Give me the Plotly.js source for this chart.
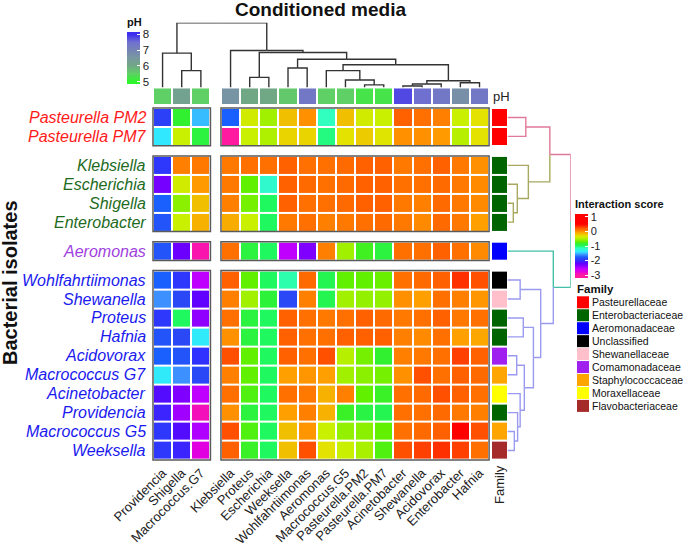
<!DOCTYPE html>
<html>
<head>
<meta charset="utf-8">
<script src="https://cdn.plot.ly/plotly-3.0.1.min.js"></script>
<style>body{margin:0;background:#fff}#chart{width:685px;height:546px}</style>
</head>
<body>
<div id="chart"></div>
<script>
// columns = conditioned media, in dendrogram order
const colNames = ["Providencia", "Shigella", "Macrococcus.G7", "Klebsiella", "Proteus", "Escherichia", "Weeksella",
    "Wohlfahrtiimonas", "Aeromonas", "Macrococcus.G5", "Pasteurella.PM2", "Pasteurella.PM7", "Acinetobacter",
    "Shewanella", "Acidovorax", "Enterobacter", "Hafnia"];
const colSplit = [0, 0, 0, 1, 1, 1, 1, 1, 1, 1, 1, 1, 1, 1, 1, 1, 1];
const colPH = [5.5, 6.2, 5.5, 6.6, 6.0, 6.0, 5.6, 7.3, 5.5, 5.5, 5.25, 5.25, 7.8, 7.5, 7.3, 6.7, 7.3];

// rows = bacterial isolates
const rowNames = ["Pasteurella PM2", "Pasteurella PM7", "Klebsiella", "Escherichia", "Shigella", "Enterobacter",
    "Aeromonas", "Wohlfahrtiimonas", "Shewanella", "Proteus", "Hafnia", "Acidovorax", "Macrococcus G7",
    "Acinetobacter", "Providencia", "Macrococcus G5", "Weeksella"];
const rowSplit = [0, 0, 1, 1, 1, 1, 2, 3, 3, 3, 3, 3, 3, 3, 3, 3, 3];
const rowFamily = [0, 0, 1, 1, 1, 1, 2, 3, 4, 1, 1, 5, 6, 7, 1, 6, 8];

const familyNames = ["Pasteurellaceae", "Enterobacteriaceae", "Aeromonadaceae", "Unclassified", "Shewanellaceae",
    "Comamonadaceae", "Staphylococcaceae", "Moraxellaceae", "Flavobacteriaceae"];
const familyColors = ["#ff0000", "#006400", "#0000ff", "#000000", "#ffc0cb", "#a020f0", "#ffa500", "#ffff00", "#a52a2a"];

const labelColors = ["#ff1a1a", "#1e6b1e", "#a040e0", "#1a1aee"];
const branchColors = ["#e07a98", "#a8a860", "#45c0a8", "#9a9af0"];

// interaction scores, rows x columns
const scores = [
    [-1.9, -0.85, -1.5, -1.75, -0.38, -0.55, -0.18, 0, -1.15, -0.18, -0.38, -0.42, 0.2, 0.12, 0.05, -0.42, -0.3],
    [-1.4, -0.42, -0.9, -3, -0.42, -0.5, -0.25, -0.25, -1.05, -0.3, -0.22, -0.32, 0, 0, -0.03, -0.48, -0.3],
    [-1.95, 0.05, 0.08, 0.08, 0.12, 0.12, 0.2, 0.12, 0.12, 0.15, 0.2, 0.2, 0.08, 0.12, 0.2, 0.08, 0],
    [-2.3, -0.38, -0.03, 0.08, -0.7, -1.2, 0.2, 0.15, 0.12, 0.15, 0.2, 0.2, 0.12, 0.12, 0.15, 0.08, 0.02],
    [-1.75, -0.6, -0.18, 0.05, -0.65, -1.0, 0.2, 0.12, 0.12, 0.15, 0.2, 0.2, 0.08, 0.05, 0.15, 0.08, 0.02],
    [-1.8, -0.42, -0.12, -0.1, -0.42, -1.0, 0.08, 0.12, 0.05, 0.08, 0.12, 0.15, 0.08, 0.02, 0.15, 0.08, -0.05],
    [-1.8, -2.25, -2.95, 0.12, -0.9, -1.0, -2.55, -2.35, 0.05, -0.55, -0.8, -0.9, 0.12, 0.12, 0.2, 0.12, 0.02],
    [-1.75, -1.95, -2.55, 0.2, -0.7, -1.0, -1.12, 0.15, -0.95, -0.7, -0.7, -0.68, 0.12, 0.15, 0.2, 0.35, 0.25],
    [-1.6, -1.85, -2.2, 0.05, -0.55, -0.88, -1.85, 0.05, -0.95, -0.55, -0.58, -0.58, 0, -0.05, 0.12, 0.05, -0.02],
    [-1.95, -1.0, -2.4, 0.12, -0.9, -1.0, 0.2, 0.12, 0.08, 0.12, 0.2, 0.15, 0.08, 0.12, 0.2, 0.08, 0.12],
    [-1.8, -1.85, -1.38, 0, -0.9, -1.0, 0.2, 0.12, 0.12, 0.2, 0.2, 0.2, 0.05, 0.02, 0.12, -0.05, -0.08],
    [-1.75, -1.8, -2.0, 0.25, -0.7, -1.0, 0.2, 0.12, 0.25, -0.48, -0.65, -0.85, 0.05, 0.08, 0.12, 0.3, 0.2],
    [-1.38, -1.6, -1.85, 0.05, -0.7, -1.0, -0.05, -0.02, -0.05, -0.55, -0.6, -0.65, 0, 0.25, 0.12, 0.2, 0.15],
    [-2.15, -2.35, -2.55, 0.12, -0.75, -1.0, 0.12, 0.08, -0.12, 0.05, -0.7, -0.82, 0.12, 0.15, 0.25, 0.2, 0.12],
    [-2.05, -2.45, -2.9, 0, -0.9, -1.0, -0.05, 0.05, -0.12, -0.82, -0.92, -0.95, 0.12, 0.12, 0.15, 0.08, 0.05],
    [-1.95, -2.15, -2.5, 0.25, -0.75, -1.0, -0.18, -0.02, -0.42, -0.58, -0.6, -0.7, 0.12, 0.15, 0.2, 0.5, 0.25],
    [-1.95, -2.05, -2.75, 0.2, -0.82, -1.0, -0.18, 0.25, -0.3, -0.42, -0.52, -0.75, 0.25, 0.3, 0.35, 0.3, 0.12]
];
const scoreTicks = [1, 0, -1, -2, -3];
const scoreTickText = ["1", "0", "-1", "-2", "-3"];
const phTicks = [5, 6, 7, 8];

// dendrograms, R hclust style: negative = leaf (1-based display order), positive = earlier merge
const colMerges = [[-13, -14, 0.023], [-11, -12, 0.04], [1, -15, 0.054], [-16, -17, 0.074], [3, 4, 0.105],
    [-10, 2, 0.116], [-5, -6, 0.157], [-9, 6, 0.26], [-2, -3, 0.26], [-7, -8, 0.30], [8, 5, 0.35],
    [10, 11, 0.435], [-1, 9, 0.53], [7, 12, 0.54], [-4, 14, 0.57], [13, 15, 1.0]];
const rowMerges = [[-5, -6, 0.092], [-16, -17, 0.108], [-12, -13, 0.146], [-4, 1, 0.155], [-15, 2, 0.16],
    [-8, -9, 0.20], [-14, 5, 0.20], [-10, -11, 0.25], [3, 7, 0.266], [-1, -2, 0.29], [-3, 4, 0.33],
    [8, 9, 0.41], [6, 12, 0.525], [10, 11, 0.67], [-7, 13, 0.725], [14, 15, 1.0]];

// colour ramps (legend bar runs a little past the end ticks, like ComplexHeatmap)
const scoreStops = [-3.2, -3, -2.75, -2.55, -2.35, -2.2, -2.0, -1.85, -1.75, -1.6, -1.4, -1.15, -1.0, -0.85, -0.7,
    -0.55, -0.42, -0.3, -0.18, -0.05, 0, 0.05, 0.12, 0.2, 0.3, 0.5, 1.2];
const scoreHex = ["#ff1aa0", "#ff1aa0", "#e000e0", "#c000ff", "#8000ff", "#6000ff", "#3030ff", "#2a48f5", "#1a60ff",
    "#3c90ff", "#30e8ff", "#30ffc0", "#20f860", "#30f030", "#60f000", "#a0f000", "#c8f000", "#e4e200",
    "#f0c000", "#ffa000", "#ff9000", "#ff8000", "#ff7000", "#ff6000", "#ff4000", "#ff0000", "#ff0000"];
const phStops = [4.85, 5, 5.5, 6, 6.5, 7, 7.5, 8, 8.15];
const phHex = ["#2ef52e", "#2ef52e", "#5fd065", "#70a885", "#7898a0", "#7585b5", "#7070d0", "#3c2cf0", "#3c2cf0"];

const W = 685, H = 546;
const px = 19.15, py = 18.93;      // pixels per cell
const x0px = 153, y0px = 108;      // top-left of heatmap body
const gapX = 0.55, gapY = 0.53;    // slice gaps in cell units
const xRange = [-x0px / px, (W - x0px) / px];
const yRange = [(H - y0px) / py, -y0px / py];
const paperX = p => p / W;
const paperY = p => 1 - p / H;

const colX = colNames.map((_, i) => i + 0.5 + gapX * colSplit[i]);
const rowY = rowNames.map((_, i) => i + 0.5 + gapY * rowSplit[i]);

function scale(stops, hex) {
    const lo = stops[0], hi = stops[stops.length - 1];
    return stops.map((s, i) => [(s - lo) / (hi - lo), hex[i]]);
}

function idx(arr, g) {
    return arr.map((v, i) => v === g ? i : -1).filter(i => i >= 0);
}

const traces = [];
const shapes = [];

// main heatmap, one trace per slice
let first = true;
[0, 1, 2, 3].forEach(rg => {
    const rows = idx(rowSplit, rg);
    [0, 1].forEach(cg => {
        const cols = idx(colSplit, cg);
        traces.push({
            type: "heatmap",
            x: cols.map(c => colX[c]),
            y: rows.map(r => rowY[r]),
            z: rows.map(r => cols.map(c => scores[r][c])),
            zmin: scoreStops[0], zmax: scoreStops[scoreStops.length - 1],
            colorscale: scale(scoreStops, scoreHex),
            xgap: 2, ygap: 2,
            showscale: first,
            colorbar: {
                x: paperX(575), xanchor: "left", y: paperY(197), yanchor: "top",
                len: 81, lenmode: "pixels", thickness: 13, thicknessmode: "pixels",
                xpad: 0, ypad: 0, outlinewidth: 0,
                tickmode: "array", tickvals: scoreTicks, ticktext: scoreTickText,
                ticks: "inside", tickcolor: "white", ticklen: 3,
                tickfont: { size: 11, color: "#222" },
                title: { text: "<b>Interaction score</b>", side: "top", font: { size: 11, color: "#111" } }
            },
            hoverinfo: "z"
        });
        first = false;
        shapes.push({
            type: "rect", xref: "x", yref: "y",
            x0: colX[cols[0]] - 0.5, x1: colX[cols[cols.length - 1]] + 0.5,
            y0: rowY[rows[0]] - 0.5, y1: rowY[rows[rows.length - 1]] + 0.5,
            line: { color: "#5a5a5a", width: 1.5 }
        });
    });
});

// pH annotation row
[0, 1].forEach(cg => {
    const cols = idx(colSplit, cg);
    traces.push({
        type: "heatmap",
        x: cols.map(c => colX[c]), y: [0],
        z: [cols.map(c => colPH[c])],
        zmin: phStops[0], zmax: phStops[phStops.length - 1],
        colorscale: scale(phStops, phHex),
        xgap: 2,
        xaxis: "x", yaxis: "y3",
        showscale: cg === 0,
        colorbar: {
            x: paperX(127), xanchor: "left", y: paperY(15), yanchor: "top",
            len: 69, lenmode: "pixels", thickness: 13, thicknessmode: "pixels",
            xpad: 0, ypad: 0, outlinewidth: 0,
            tickmode: "array", tickvals: phTicks, ticks: "inside", tickcolor: "white", ticklen: 3,
            tickfont: { size: 11.5, color: "#222" },
            title: { text: "<b>pH</b>", side: "top", font: { size: 11, color: "#111" } }
        },
        hoverinfo: "z"
    });
});

// family annotation column
const famScale = [];
familyColors.forEach((c, i) => {
    famScale.push([i / familyColors.length, c], [(i + 1) / familyColors.length, c]);
});
[0, 1, 2, 3].forEach(rg => {
    const rows = idx(rowSplit, rg);
    traces.push({
        type: "heatmap",
        x: [0], y: rows.map(r => rowY[r]),
        z: rows.map(r => [rowFamily[r]]),
        zmin: -0.5, zmax: familyColors.length - 0.5,
        colorscale: famScale,
        ygap: 2,
        xaxis: "x4", yaxis: "y",
        showscale: false,
        text: rows.map(r => [familyNames[rowFamily[r]]]),
        hoverinfo: "text"
    });
});

// dendrogram edges as L-shaped segments
function dendro(merges, leafPos) {
    const pos = [];
    const p = k => k < 0 ? leafPos[-k - 1] : pos[k - 1];
    const h = k => k < 0 ? 0 : merges[k - 1][2];
    const minLeaf = k => k < 0 ? -k - 1 : Math.min(minLeaf(merges[k - 1][0]), minLeaf(merges[k - 1][1]));
    merges.forEach((m, i) => { pos[i] = (p(m[0]) + p(m[1])) / 2; });
    const segs = [];
    merges.forEach((m, i) => {
        [m[0], m[1]].forEach(c => {
            segs.push({ mid: pos[i], hp: m[2], pc: p(c), hc: h(c), leaf: minLeaf(c) });
        });
    });
    return segs;
}

// column dendrogram (top)
const cx = [], cy = [];
dendro(colMerges, colX).forEach(s => {
    cx.push(s.mid, s.pc, s.pc, null);
    cy.push(s.hp, s.hp, s.hc, null);
});
traces.push({
    type: "scatter", mode: "lines", x: cx, y: cy, xaxis: "x", yaxis: "y2",
    line: { color: "#333333", width: 1.4 }, hoverinfo: "skip"
});

// row dendrogram (right), coloured by cluster
const rowSegs = dendro(rowMerges, rowY);
branchColors.forEach((col, g) => {
    const xs = [], ys = [];
    rowSegs.filter(s => rowSplit[s.leaf] === g).forEach(s => {
        xs.push(s.hp, s.hp, s.hc, null);
        ys.push(s.mid, s.pc, s.pc, null);
    });
    traces.push({
        type: "scatter", mode: "lines", x: xs, y: ys, xaxis: "x3", yaxis: "y",
        line: { color: col, width: 1.4 }, hoverinfo: "skip"
    });
});

// carrier for the column-name axis
traces.push({
    type: "scatter", mode: "markers", x: colX, y: colX.map(() => rowY[0]),
    xaxis: "x2", yaxis: "y", marker: { opacity: 0 }, hoverinfo: "skip"
});

const annotations = [
    {
        text: "<b>Conditioned media</b>", xref: "paper", yref: "paper",
        x: paperX(320), y: paperY(9.5), xanchor: "center", yanchor: "middle",
        showarrow: false, font: { size: 19, color: "#111" }
    },
    {
        text: "<b>Bacterial isolates</b>", xref: "paper", yref: "paper", textangle: -90,
        x: paperX(10), y: paperY(283), xanchor: "center", yanchor: "middle",
        showarrow: false, font: { size: 20, color: "#111" }
    },
    {
        text: "pH", xref: "paper", yref: "paper", x: paperX(491), y: paperY(96),
        xanchor: "left", yanchor: "middle", showarrow: false, font: { size: 13, color: "#222" }
    },
    {
        text: "Family", xref: "paper", yref: "paper", textangle: -90, x: paperX(499.5), y: paperY(463),
        xanchor: "center", yanchor: "top", showarrow: false, font: { size: 13, color: "#222" }
    },
    {
        text: "<b>Family</b>", xref: "paper", yref: "paper", x: paperX(575), y: paperY(289),
        xanchor: "left", yanchor: "middle", showarrow: false, font: { size: 11.5, color: "#111" }
    }
];

rowNames.forEach((name, r) => {
    annotations.push({
        text: "<i>" + name + "</i>", xref: "x", yref: "y", x: -0.25, y: rowY[r],
        xanchor: "right", yanchor: "middle", showarrow: false,
        font: { size: 16, color: labelColors[rowSplit[r]] }
    });
});

familyNames.forEach((name, i) => {
    const yc = 302.3 + 12.95 * i;
    shapes.push({
        type: "rect", xref: "paper", yref: "paper",
        x0: paperX(577), x1: paperX(589), y0: paperY(yc - 6), y1: paperY(yc + 6),
        fillcolor: familyColors[i], line: { width: 0 }
    });
    annotations.push({
        text: name, xref: "paper", yref: "paper", x: paperX(590), y: paperY(yc),
        xanchor: "left", yanchor: "middle", showarrow: false, font: { size: 10.5, color: "#111" }
    });
});

const hidden = { visible: false, fixedrange: true };

const layout = {
    width: W, height: H,
    margin: { l: 0, r: 0, t: 0, b: 0 },
    paper_bgcolor: "white", plot_bgcolor: "rgba(0,0,0,0)",
    showlegend: false,
    font: { family: "Liberation Sans, Arial, sans-serif", color: "#222" },
    xaxis: Object.assign({ domain: [0, 1], range: xRange }, hidden),
    yaxis: Object.assign({ domain: [0, 1], range: yRange }, hidden),
    xaxis2: {
        overlaying: "x", anchor: "free", position: paperY(462), range: xRange,
        tickmode: "array", tickvals: colX, ticktext: colNames, tickangle: -45,
        ticks: "", showgrid: false, zeroline: false, showline: false, fixedrange: true,
        tickfont: { size: 13, color: "#222" }
    },
    yaxis2: Object.assign({ domain: [paperY(87.5), paperY(22.7)], range: [0, 1], anchor: "x" }, hidden),
    xaxis3: Object.assign({ domain: [paperX(507.5), paperX(570.7)], range: [0, 1], anchor: "y" }, hidden),
    yaxis3: Object.assign({ domain: [paperY(104), paperY(88.3)], range: [0.5, -0.5], anchor: "x" }, hidden),
    xaxis4: Object.assign({ domain: [paperX(492), paperX(507)], range: [-0.5, 0.5], anchor: "y" }, hidden),
    shapes: shapes,
    annotations: annotations
};

Plotly.newPlot("chart", traces, layout, { displayModeBar: false, staticPlot: true });
</script>
</body>
</html>
